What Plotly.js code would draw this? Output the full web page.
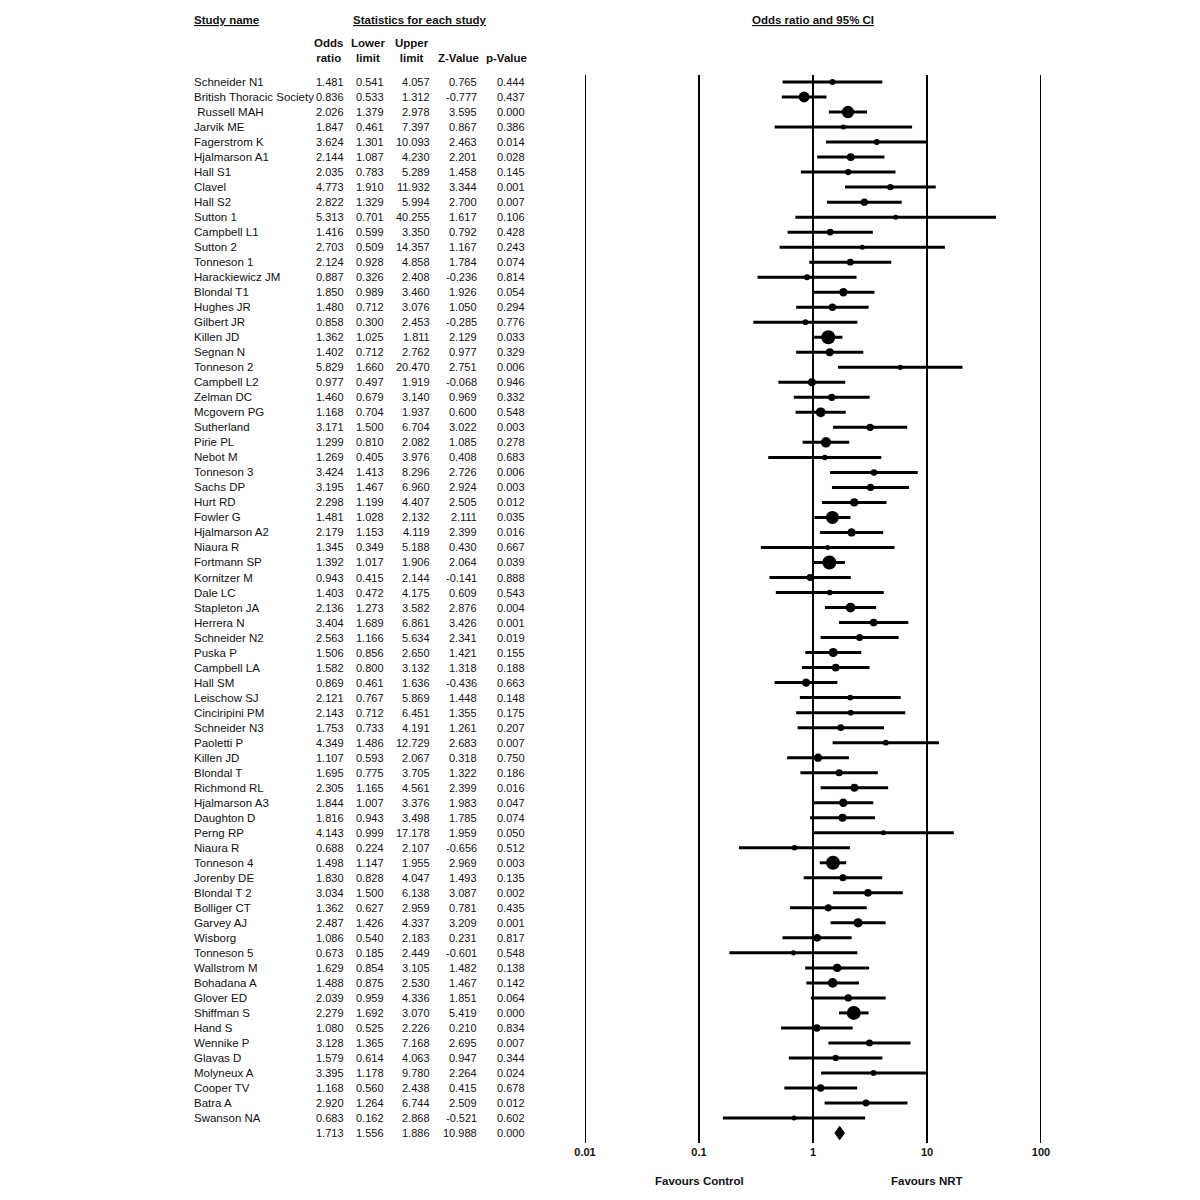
<!DOCTYPE html>
<html>
<head>
<meta charset="utf-8">
<script src="https://cdn.plot.ly/plotly-3.0.1.min.js"></script>
<style>html,body{margin:0;padding:0;background:#fff;}#chart{width:1200px;height:1200px;}</style>
</head>
<body>
<div id="chart"></div>
<script>
const studyNames = ["Schneider N1","British Thoracic Society","\u00a0Russell MAH","Jarvik ME","Fagerstrom K","Hjalmarson A1","Hall S1","Clavel","Hall S2","Sutton 1","Campbell L1","Sutton 2","Tonneson 1","Harackiewicz JM","Blondal T1","Hughes JR","Gilbert JR","Killen JD","Segnan N","Tonneson 2","Campbell L2","Zelman DC","Mcgovern PG","Sutherland","Pirie PL","Nebot M","Tonneson 3","Sachs DP","Hurt RD","Fowler G","Hjalmarson A2","Niaura R","Fortmann SP","Kornitzer M","Dale LC","Stapleton JA","Herrera N","Schneider N2","Puska P","Campbell LA","Hall SM","Leischow SJ","Cinciripini PM","Schneider N3","Paoletti P","Killen JD","Blondal T","Richmond RL","Hjalmarson A3","Daughton D","Perng RP","Niaura R","Tonneson 4","Jorenby DE","Blondal T 2","Bolliger CT","Garvey AJ","Wisborg","Tonneson 5","Wallstrom M","Bohadana A","Glover ED","Shiffman S","Hand S","Wennike P","Glavas D","Molyneux A","Cooper TV","Batra A","Swanson NA"];
const oddsRatio = [1.481,0.836,2.026,1.847,3.624,2.144,2.035,4.773,2.822,5.313,1.416,2.703,2.124,0.887,1.850,1.480,0.858,1.362,1.402,5.829,0.977,1.460,1.168,3.171,1.299,1.269,3.424,3.195,2.298,1.481,2.179,1.345,1.392,0.943,1.403,2.136,3.404,2.563,1.506,1.582,0.869,2.121,2.143,1.753,4.349,1.107,1.695,2.305,1.844,1.816,4.143,0.688,1.498,1.830,3.034,1.362,2.487,1.086,0.673,1.629,1.488,2.039,2.279,1.080,3.128,1.579,3.395,1.168,2.920,0.683];
const lowerLimit = [0.541,0.533,1.379,0.461,1.301,1.087,0.783,1.910,1.329,0.701,0.599,0.509,0.928,0.326,0.989,0.712,0.300,1.025,0.712,1.660,0.497,0.679,0.704,1.500,0.810,0.405,1.413,1.467,1.199,1.028,1.153,0.349,1.017,0.415,0.472,1.273,1.689,1.166,0.856,0.800,0.461,0.767,0.712,0.733,1.486,0.593,0.775,1.165,1.007,0.943,0.999,0.224,1.147,0.828,1.500,0.627,1.426,0.540,0.185,0.854,0.875,0.959,1.692,0.525,1.365,0.614,1.178,0.560,1.264,0.162];
const upperLimit = [4.057,1.312,2.978,7.397,10.093,4.230,5.289,11.932,5.994,40.255,3.350,14.357,4.858,2.408,3.460,3.076,2.453,1.811,2.762,20.470,1.919,3.140,1.937,6.704,2.082,3.976,8.296,6.960,4.407,2.132,4.119,5.188,1.906,2.144,4.175,3.582,6.861,5.634,2.650,3.132,1.636,5.869,6.451,4.191,12.729,2.067,3.705,4.561,3.376,3.498,17.178,2.107,1.955,4.047,6.138,2.959,4.337,2.183,2.449,3.105,2.530,4.336,3.070,2.226,7.168,4.063,9.780,2.438,6.744,2.868];
const zValue = [0.765,-0.777,3.595,0.867,2.463,2.201,1.458,3.344,2.700,1.617,0.792,1.167,1.784,-0.236,1.926,1.050,-0.285,2.129,0.977,2.751,-0.068,0.969,0.600,3.022,1.085,0.408,2.726,2.924,2.505,2.111,2.399,0.430,2.064,-0.141,0.609,2.876,3.426,2.341,1.421,1.318,-0.436,1.448,1.355,1.261,2.683,0.318,1.322,2.399,1.983,1.785,1.959,-0.656,2.969,1.493,3.087,0.781,3.209,0.231,-0.601,1.482,1.467,1.851,5.419,0.210,2.695,0.947,2.264,0.415,2.509,-0.521];
const pValue = [0.444,0.437,0.000,0.386,0.014,0.028,0.145,0.001,0.007,0.106,0.428,0.243,0.074,0.814,0.054,0.294,0.776,0.033,0.329,0.006,0.946,0.332,0.548,0.003,0.278,0.683,0.006,0.003,0.012,0.035,0.016,0.667,0.039,0.888,0.543,0.004,0.001,0.019,0.155,0.188,0.663,0.148,0.175,0.207,0.007,0.750,0.186,0.016,0.047,0.074,0.050,0.512,0.003,0.135,0.002,0.435,0.001,0.817,0.548,0.138,0.142,0.064,0.000,0.834,0.007,0.344,0.024,0.678,0.012,0.602];
const summaryValues = {or: 1.713, lower: 1.556, upper: 1.886, z: 10.988, p: 0.000};
const tickVals = [0.01, 0.1, 1, 10, 100];
const tickLabels = ["0.01", "0.1", "1", "10", "100"];

const W = 1200, H = 1200;
const FONT = "Arial, 'Liberation Sans', Helvetica, sans-serif";
const TXT = "#111";
const px = v => v / W;
const py = v => 1 - v / H;

const n = studyNames.length;
const rows = studyNames.map((_, i) => i);

// CI lines
const lx = [], ly = [];
for (let i = 0; i < n; i++) { lx.push(lowerLimit[i], upperLimit[i], null); ly.push(i, i, null); }
const ciTrace = {x: lx, y: ly, mode: 'lines', line: {color: '#000', width: 3}, hoverinfo: 'skip', showlegend: false};

// point estimates, size from CI width (weight)
const sizes = rows.map(i => {
  const w = Math.log(upperLimit[i]) - Math.log(lowerLimit[i]);
  return Math.min(14, Math.max(5, 2 + 8 / w));
});
const ptTrace = {x: oddsRatio, y: rows, mode: 'markers',
  marker: {color: '#000', size: sizes, opacity: 1, line: {width: 0}}, showlegend: false};

// summary diamond
const s = n;
const dmTrace = {
  x: [summaryValues.lower, summaryValues.or, summaryValues.upper, summaryValues.or, summaryValues.lower],
  y: [s, s - 0.45, s, s + 0.45, s],
  mode: 'lines', fill: 'toself', fillcolor: '#000', line: {color: '#000', width: 1}, showlegend: false
};

const ann = [];
const colRight = [344, 384, 430, 477, 525];
const f3 = v => v.toFixed(3);
function cell(text, xpx, row, anchor, size) {
  ann.push({text: text, x: px(xpx), xref: 'paper', y: row, yref: 'y', xanchor: anchor, yanchor: 'middle',
    showarrow: false, borderpad: 0, borderwidth: 0,
    font: {family: FONT, size: size || 11, color: TXT}});
}
for (let i = 0; i < n; i++) {
  cell(studyNames[i], 194, i, 'left', 11.5);
  cell(f3(oddsRatio[i]), colRight[0], i, 'right');
  cell(f3(lowerLimit[i]), colRight[1], i, 'right');
  cell(f3(upperLimit[i]), colRight[2], i, 'right');
  cell(f3(zValue[i]), colRight[3], i, 'right');
  cell(f3(pValue[i]), colRight[4], i, 'right');
}
cell(f3(summaryValues.or), colRight[0], s, 'right');
cell(f3(summaryValues.lower), colRight[1], s, 'right');
cell(f3(summaryValues.upper), colRight[2], s, 'right');
cell(f3(summaryValues.z), colRight[3], s, 'right');
cell(f3(summaryValues.p), colRight[4], s, 'right');

function hdr(text, xpx, ypx, anchor, underline) {
  ann.push({text: text, x: px(xpx), xref: 'paper', y: py(ypx), yref: 'paper', xanchor: anchor, yanchor: 'middle',
    showarrow: false, borderpad: 0, borderwidth: 0, align: 'center',
    font: {family: FONT, size: 11.5, color: TXT, weight: 'bold', lineposition: underline ? 'under' : 'none'}});
}
hdr('Study name', 194, 20, 'left', true);
hdr('Statistics for each study', 420, 20, 'center', true);
hdr('Odds ratio and 95% CI', 813, 20, 'center', true);
hdr('Odds<br>ratio', 328, 51, 'center');
hdr('Lower<br>limit', 368, 51, 'center');
hdr('Upper<br>limit', 412, 51, 'center');
hdr('Z-Value', 458, 58, 'center');
hdr('p-Value', 506, 58, 'center');
hdr('Favours Control', 699, 1181, 'center');
hdr('Favours NRT', 927, 1181, 'center');

// vertical reference lines at each tick value
const shapes = tickVals.map(v => ({
  type: 'line', xref: 'x', x0: v, x1: v, yref: 'paper', y0: py(1143), y1: py(75),
  line: {color: '#000', width: 2}
}));

const layout = {
  width: W, height: H,
  margin: {l: 0, r: 0, t: 0, b: 0},
  paper_bgcolor: '#fff', plot_bgcolor: '#fff',
  showlegend: false,
  xaxis: {
    type: 'log', range: [-2, 2], domain: [585 / W, 1041 / W],
    tickvals: tickVals, ticktext: tickLabels,
    showgrid: false, zeroline: false, showline: false,
    ticks: '', ticklen: 0, ticklabelstandoff: 3,
    tickfont: {family: FONT, size: 11, color: TXT, weight: 'bold'},
    fixedrange: true
  },
  yaxis: {
    range: [70.53, -0.5], domain: [1 - 1141 / H, 1 - 74.5 / H],
    visible: false, showgrid: false, zeroline: false, fixedrange: true
  },
  shapes: shapes,
  annotations: ann
};

Plotly.newPlot('chart', [ciTrace, ptTrace, dmTrace], layout, {staticPlot: true, displayModeBar: false});
</script>
</body>
</html>
